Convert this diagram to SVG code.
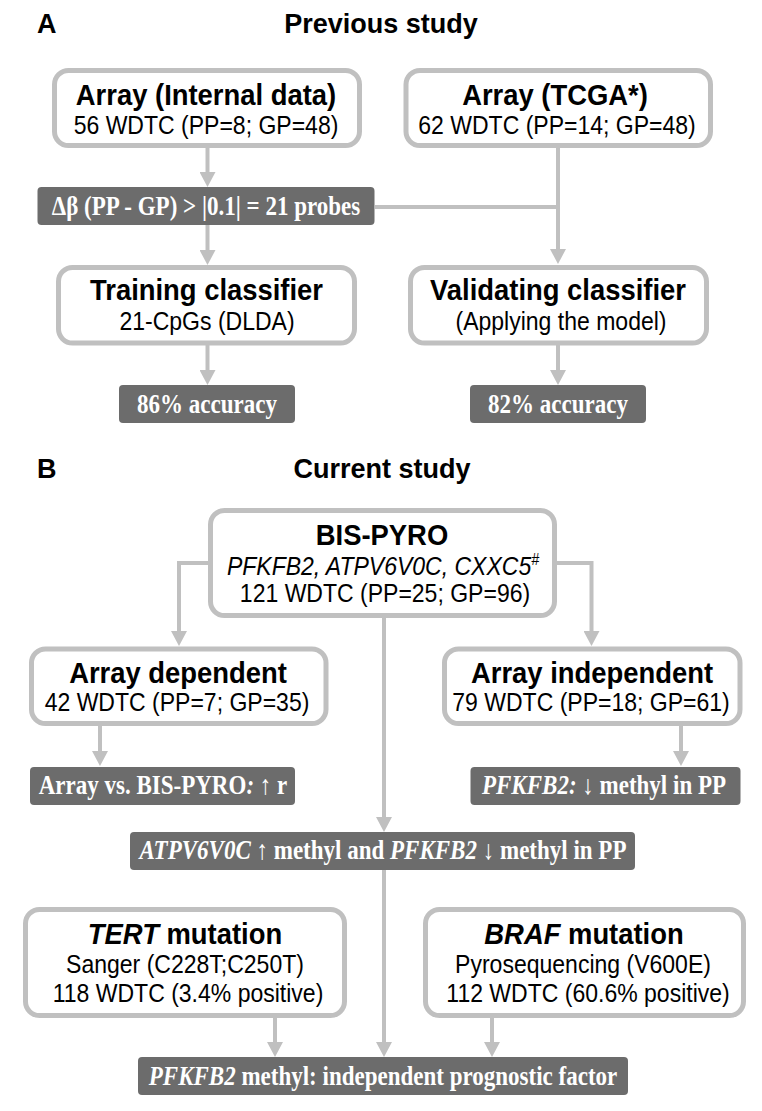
<svg xmlns="http://www.w3.org/2000/svg" width="762" height="1111" viewBox="0 0 762 1111">
<style>
.bg{fill:#ffffff}
.box{fill:#ffffff;stroke:#c0c0c0;stroke-width:5}
.dark{fill:#6c6c6c}
.conn{fill:none;stroke:#c0c0c0;stroke-width:4}
.head{font-family:"Liberation Sans",Arial,sans-serif;font-weight:bold;font-size:27px;fill:#000}
.htitle{font-family:"Liberation Sans",Arial,sans-serif;font-weight:bold;font-size:28px;fill:#000;text-anchor:middle}
.title{font-family:"Liberation Sans",Arial,sans-serif;font-weight:bold;font-size:29px;fill:#000;text-anchor:middle}
.sub{font-family:"Liberation Sans",Arial,sans-serif;font-size:26px;fill:#000;text-anchor:middle}
.dt{font-family:"Liberation Serif","Times New Roman",serif;font-weight:bold;font-size:27px;fill:#ffffff;text-anchor:middle}
.it{font-style:italic}
</style>
<defs>
<marker id="arr" markerUnits="userSpaceOnUse" viewBox="0 0 15 16" refX="5" refY="8" markerWidth="15" markerHeight="16" orient="auto">
<path d="M0,0 L15,8 L0,16 z" fill="#c0c0c0"/>
</marker>
</defs>
<rect class="bg" x="0" y="0" width="762" height="1111"/>

<g id="headings">
<text class="head" x="37" y="33">A</text>
<text class="htitle" x="0" y="33" transform="matrix(0.965 0 0 1 381 0)">Previous study</text>
<text class="head" x="37" y="478">B</text>
<text class="htitle" x="0" y="478" transform="matrix(0.965 0 0 1 382 0)">Current study</text>
</g>

<g id="connectors">
<path class="conn" d="M207.5,147 V177" marker-end="url(#arr)"/>
<path class="conn" d="M207.5,225 V255" marker-end="url(#arr)"/>
<path class="conn" d="M375,207 H558"/>
<path class="conn" d="M558,147 V254" marker-end="url(#arr)"/>
<path class="conn" d="M207.5,345 V375" marker-end="url(#arr)"/>
<path class="conn" d="M558,345 V375" marker-end="url(#arr)"/>
<path class="conn" d="M209,563 H179 V636" marker-end="url(#arr)"/>
<path class="conn" d="M556,563 H591.5 V636" marker-end="url(#arr)"/>
<path class="conn" d="M384,617 V822" marker-end="url(#arr)"/>
<path class="conn" d="M100,725 V756" marker-end="url(#arr)"/>
<path class="conn" d="M681,725 V756" marker-end="url(#arr)"/>
<path class="conn" d="M384,870 V1047" marker-end="url(#arr)"/>
<path class="conn" d="M275,1017 V1047" marker-end="url(#arr)"/>
<path class="conn" d="M492,1017 V1047" marker-end="url(#arr)"/>
</g>

<g id="array-internal">
<rect class="box" x="54.5" y="70.5" width="305" height="75" rx="14"/>
<text class="title" x="0" y="105" transform="matrix(0.945 0 0 1 206 0)">Array (Internal data)</text>
<text class="sub" x="0" y="134" transform="matrix(0.885 0 0 1 206 0)">56 WDTC (PP=8; GP=48)</text>
</g>

<g id="array-tcga">
<rect class="box" x="406" y="70.5" width="304.5" height="75" rx="14"/>
<text class="title" x="0" y="105" transform="matrix(0.945 0 0 1 555 0)">Array (TCGA*)</text>
<text class="sub" x="0" y="134" transform="matrix(0.885 0 0 1 557 0)">62 WDTC (PP=14; GP=48)</text>
</g>

<g id="delta-beta">
<rect class="dark" x="37.5" y="187" width="337" height="38" rx="4"/>
<text class="dt" x="0" y="215" transform="matrix(0.852 0 0 1 206 0)">Δβ (PP - GP) &gt; |0.1| = 21 probes</text>
</g>

<g id="training">
<rect class="box" x="58.5" y="267.5" width="296" height="75.5" rx="14"/>
<text class="title" x="0" y="300.5" transform="matrix(0.945 0 0 1 206.5 0)">Training classifier</text>
<text class="sub" x="0" y="330" transform="matrix(0.885 0 0 1 207 0)">21-CpGs (DLDA)</text>
</g>

<g id="validating">
<rect class="box" x="410.5" y="267.5" width="296" height="75.5" rx="14"/>
<text class="title" x="0" y="300.5" transform="matrix(0.945 0 0 1 558 0)">Validating classifier</text>
<text class="sub" x="0" y="330" transform="matrix(0.885 0 0 1 561 0)">(Applying the model)</text>
</g>

<g id="acc86">
<rect class="dark" x="119" y="385" width="176" height="38" rx="4"/>
<text class="dt" x="0" y="413" transform="matrix(0.852 0 0 1 207 0)">86% accuracy</text>
</g>

<g id="acc82">
<rect class="dark" x="470" y="385" width="176" height="38" rx="4"/>
<text class="dt" x="0" y="413" transform="matrix(0.852 0 0 1 558 0)">82% accuracy</text>
</g>

<g id="bis-pyro">
<rect class="box" x="210.5" y="510.5" width="344" height="105" rx="14"/>
<text class="title" x="0" y="545" transform="matrix(0.945 0 0 1 382 0)">BIS-PYRO</text>
<text class="sub it" x="0" y="575" transform="matrix(0.885 0 0 1 383 0)">PFKFB2, ATPV6V0C, CXXC5<tspan font-size="16" dy="-10">#</tspan></text>
<text class="sub" x="0" y="602" transform="matrix(0.885 0 0 1 385 0)">121 WDTC (PP=25; GP=96)</text>
</g>

<g id="array-dependent">
<rect class="box" x="31.5" y="649" width="294.5" height="74.5" rx="14"/>
<text class="title" x="0" y="683" transform="matrix(0.945 0 0 1 178 0)">Array dependent</text>
<text class="sub" x="0" y="711" transform="matrix(0.885 0 0 1 177 0)">42 WDTC (PP=7; GP=35)</text>
</g>

<g id="array-independent">
<rect class="box" x="444.5" y="649" width="295.5" height="74.5" rx="14"/>
<text class="title" x="0" y="683" transform="matrix(0.945 0 0 1 592 0)">Array independent</text>
<text class="sub" x="0" y="711" transform="matrix(0.885 0 0 1 591 0)">79 WDTC (PP=18; GP=61)</text>
</g>

<g id="array-vs">
<rect class="dark" x="30" y="767" width="265" height="38" rx="4"/>
<text class="dt" x="0" y="794" transform="matrix(0.852 0 0 1 163 0)">Array vs. BIS-PYRO<tspan class="it">:</tspan> ↑ r</text>
</g>

<g id="pfkfb2-down">
<rect class="dark" x="470.5" y="767" width="270" height="38" rx="4"/>
<text class="dt" x="0" y="794" transform="matrix(0.852 0 0 1 604 0)"><tspan class="it">PFKFB2:</tspan> ↓ methyl in PP</text>
</g>

<g id="atpv">
<rect class="dark" x="130" y="832" width="505" height="38" rx="4"/>
<text class="dt" x="0" y="859" transform="matrix(0.852 0 0 1 383 0)"><tspan class="it">ATPV6V0C</tspan> ↑ methyl and <tspan class="it">PFKFB2</tspan> ↓ methyl in PP</text>
</g>

<g id="tert">
<rect class="box" x="25.5" y="909.5" width="319" height="106" rx="14"/>
<text class="title" x="0" y="944" transform="matrix(0.945 0 0 1 185 0)"><tspan class="it">TERT</tspan> mutation</text>
<text class="sub" x="0" y="973" transform="matrix(0.885 0 0 1 185 0)">Sanger (C228T;C250T)</text>
<text class="sub" x="0" y="1002" transform="matrix(0.885 0 0 1 188 0)">118 WDTC (3.4% positive)</text>
</g>

<g id="braf">
<rect class="box" x="425.5" y="909.5" width="318" height="106" rx="14"/>
<text class="title" x="0" y="944" transform="matrix(0.945 0 0 1 584 0)"><tspan class="it">BRAF</tspan> mutation</text>
<text class="sub" x="0" y="973" transform="matrix(0.885 0 0 1 583 0)">Pyrosequencing (V600E)</text>
<text class="sub" x="0" y="1002" transform="matrix(0.885 0 0 1 588 0)">112 WDTC (60.6% positive)</text>
</g>

<g id="prognostic">
<rect class="dark" x="138" y="1057" width="490" height="38" rx="4"/>
<text class="dt" x="0" y="1085" transform="matrix(0.852 0 0 1 383 0)"><tspan class="it">PFKFB2</tspan> methyl: independent prognostic factor</text>
</g>
</svg>
